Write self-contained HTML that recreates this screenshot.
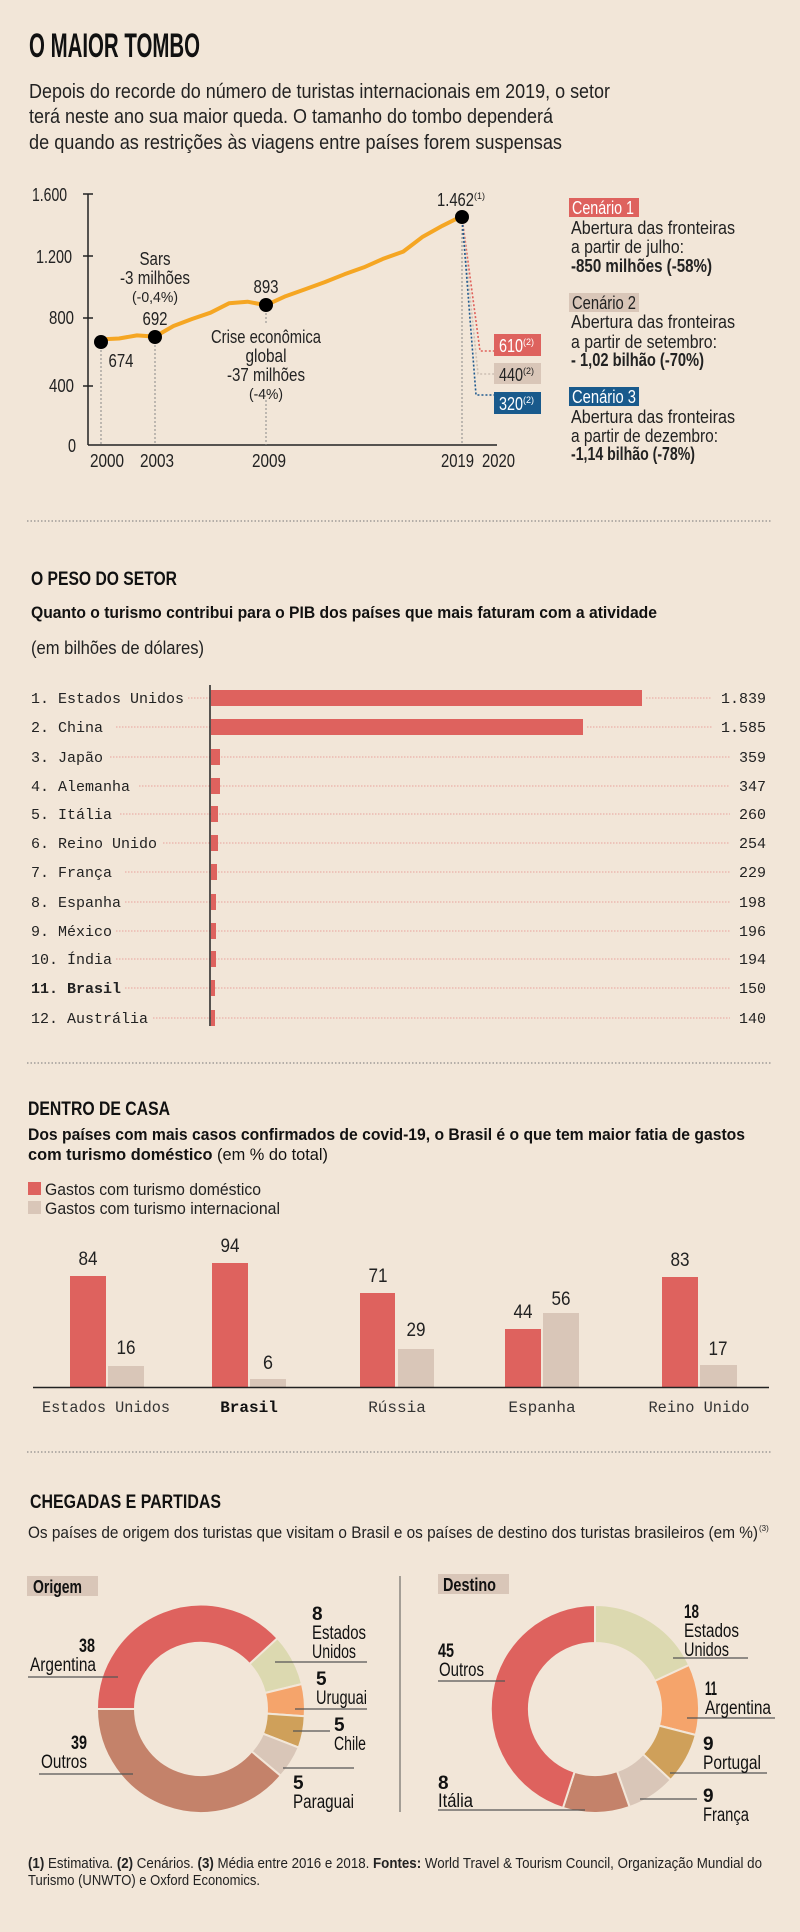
<!DOCTYPE html>
<html><head><meta charset="utf-8"><style>
html,body{margin:0;padding:0;background:#f2e6d8;}
svg{display:block;font-family:"Liberation Sans Narrow","Liberation Sans",sans-serif;}
.m{font-family:"Liberation Mono",monospace;}
</style></head><body>
<svg width="800" height="1932" viewBox="0 0 800 1932" xmlns="http://www.w3.org/2000/svg">
<rect width="800" height="1932" fill="#f2e6d8"/>
<!-- SECTION 1 -->
<text x="29" y="57" font-size="34" font-weight="bold" textLength="171" lengthAdjust="spacingAndGlyphs" fill="#111">O MAIOR TOMBO</text>
<g font-size="20" fill="#222">
<text x="29" y="98" textLength="581" lengthAdjust="spacingAndGlyphs">Depois do recorde do número de turistas internacionais em 2019, o setor</text>
<text x="29" y="123" textLength="524" lengthAdjust="spacingAndGlyphs">terá neste ano sua maior queda. O tamanho do tombo dependerá</text>
<text x="29" y="149" textLength="533" lengthAdjust="spacingAndGlyphs">de quando as restrições às viagens entre países forem suspensas</text>
</g>
<g stroke="#222" stroke-width="1.5">
<line x1="88" y1="194" x2="88" y2="445"/>
<line x1="88" y1="445" x2="497" y2="445"/>
<line x1="83" y1="194" x2="93" y2="194"/>
<line x1="83" y1="256" x2="93" y2="256"/>
<line x1="83" y1="318" x2="93" y2="318"/>
<line x1="83" y1="386" x2="93" y2="386"/>
</g>
<g font-size="18" fill="#222" text-anchor="end" lengthAdjust="spacingAndGlyphs">
<text x="67" y="201" textLength="35" lengthAdjust="spacingAndGlyphs">1.600</text>
<text x="72" y="263" textLength="36" lengthAdjust="spacingAndGlyphs">1.200</text>
<text x="74" y="324" textLength="25" lengthAdjust="spacingAndGlyphs">800</text>
<text x="74" y="392" textLength="25" lengthAdjust="spacingAndGlyphs">400</text>
<text x="76" y="452" textLength="8" lengthAdjust="spacingAndGlyphs">0</text>
</g>
<g font-size="18" fill="#222">
<text x="90" y="467" textLength="34" lengthAdjust="spacingAndGlyphs">2000</text>
<text x="140" y="467" textLength="34" lengthAdjust="spacingAndGlyphs">2003</text>
<text x="252" y="467" textLength="34" lengthAdjust="spacingAndGlyphs">2009</text>
<text x="441" y="467" textLength="33" lengthAdjust="spacingAndGlyphs">2019</text>
<text x="482" y="467" textLength="33" lengthAdjust="spacingAndGlyphs">2020</text>
</g>
<g stroke="#888" stroke-width="1" stroke-dasharray="2,2">
<line x1="101" y1="342" x2="101" y2="445"/>
<line x1="155" y1="337" x2="155" y2="445"/>
<line x1="266" y1="305" x2="266" y2="325"/>
<line x1="266" y1="400" x2="266" y2="445"/>
<line x1="462" y1="217" x2="462" y2="445"/>
</g>
<polyline fill="none" stroke="#f5a623" stroke-width="4" stroke-linejoin="round" points="101,339.4 119,338.5 137,335.4 155,336.6 173.5,326 192,319 210.5,312.7 229,303.3 247.5,301.7 266,305.2 285.6,296.2 305.2,289.2 324.8,282.1 344.4,274.3 364,267.3 383.6,258.6 403.2,251.6 422.8,236.7 442.4,225.8 462,216"/>
<polyline fill="none" stroke="#e0605a" stroke-width="1.6" stroke-dasharray="2,2" points="462,217 480,351 494,351"/>
<polyline fill="none" stroke="#cdbfb3" stroke-width="1.6" stroke-dasharray="2,2" points="462,217 478,374 494,374"/>
<polyline fill="none" stroke="#1f5a8f" stroke-width="1.6" stroke-dasharray="2,2" points="462,217 476,395 494,395"/>
<g fill="#000"><circle cx="101" cy="342" r="7"/><circle cx="155" cy="337" r="7"/><circle cx="266" cy="305" r="7"/><circle cx="462" cy="217" r="7"/></g>
<rect x="494" y="334" width="47" height="22" fill="#de625e"/>
<rect x="494" y="363" width="47" height="21" fill="#d9c6b8"/>
<rect x="494" y="392" width="47" height="22" fill="#195a8c"/>
<g font-size="18">
<text x="499" y="352" fill="#fff"><tspan textLength="24" lengthAdjust="spacingAndGlyphs">610</tspan><tspan font-size="9" dy="-7">(2)</tspan></text>
<text x="499" y="381" fill="#222"><tspan textLength="24" lengthAdjust="spacingAndGlyphs">440</tspan><tspan font-size="9" dy="-7">(2)</tspan></text>
<text x="499" y="410" fill="#fff"><tspan textLength="24" lengthAdjust="spacingAndGlyphs">320</tspan><tspan font-size="9" dy="-7">(2)</tspan></text>
</g>
<g font-size="18" fill="#222" text-anchor="middle">
<text x="155" y="265" textLength="31" lengthAdjust="spacingAndGlyphs">Sars</text>
<text x="155" y="284" textLength="70" lengthAdjust="spacingAndGlyphs">-3 milhões</text>
<text x="155" y="302" font-size="15" textLength="46" lengthAdjust="spacingAndGlyphs">(-0,4%)</text>
<text x="155" y="325" textLength="25" lengthAdjust="spacingAndGlyphs">692</text>
<text x="121" y="367" textLength="25" lengthAdjust="spacingAndGlyphs">674</text>
<text x="266" y="293" textLength="25" lengthAdjust="spacingAndGlyphs">893</text>
<text x="266" y="343" textLength="110" lengthAdjust="spacingAndGlyphs">Crise econômica</text>
<text x="266" y="362" textLength="41" lengthAdjust="spacingAndGlyphs">global</text>
<text x="266" y="381" textLength="78" lengthAdjust="spacingAndGlyphs">-37 milhões</text>
<text x="266" y="399" font-size="15" textLength="34" lengthAdjust="spacingAndGlyphs">(-4%)</text>
</g>
<text x="437" y="206" font-size="18" fill="#222"><tspan textLength="37" lengthAdjust="spacingAndGlyphs">1.462</tspan><tspan font-size="9" dy="-7">(1)</tspan></text>
<rect x="569" y="198" width="70" height="19" fill="#de625e"/>
<rect x="569" y="293" width="70" height="19" fill="#d9c6b8"/>
<rect x="569" y="387" width="70" height="19" fill="#195a8c"/>
<g font-size="18" fill="#222">
<text x="572" y="214" fill="#fff" textLength="62" lengthAdjust="spacingAndGlyphs">Cenário 1</text>
<text x="571" y="234" textLength="164" lengthAdjust="spacingAndGlyphs">Abertura das fronteiras</text>
<text x="571" y="253" textLength="113" lengthAdjust="spacingAndGlyphs">a partir de julho:</text>
<text x="571" y="272" font-weight="bold" textLength="141" lengthAdjust="spacingAndGlyphs">-850 milhões (-58%)</text>
<text x="572" y="309" textLength="64" lengthAdjust="spacingAndGlyphs">Cenário 2</text>
<text x="571" y="328" textLength="164" lengthAdjust="spacingAndGlyphs">Abertura das fronteiras</text>
<text x="571" y="348" textLength="146" lengthAdjust="spacingAndGlyphs">a partir de setembro:</text>
<text x="571" y="366" font-weight="bold" textLength="133" lengthAdjust="spacingAndGlyphs">- 1,02 bilhão (-70%)</text>
<text x="572" y="403" fill="#fff" textLength="64" lengthAdjust="spacingAndGlyphs">Cenário 3</text>
<text x="571" y="423" textLength="164" lengthAdjust="spacingAndGlyphs">Abertura das fronteiras</text>
<text x="571" y="442" textLength="147" lengthAdjust="spacingAndGlyphs">a partir de dezembro:</text>
<text x="571" y="460" font-weight="bold" textLength="124" lengthAdjust="spacingAndGlyphs">-1,14 bilhão (-78%)</text>
</g>
<line x1="27" y1="521" x2="771" y2="521" stroke="#777" stroke-width="1" stroke-dasharray="1.5,2"/>

<!-- SECTION 2 -->
<text x="31" y="585" font-size="19" font-weight="bold" textLength="146" lengthAdjust="spacingAndGlyphs" fill="#111">O PESO DO SETOR</text>
<text x="31" y="618" font-size="17" font-weight="bold" textLength="626" lengthAdjust="spacingAndGlyphs" fill="#111">Quanto o turismo contribui para o PIB dos países que mais faturam com a atividade</text>
<text x="31" y="654" font-size="18" textLength="173" lengthAdjust="spacingAndGlyphs" fill="#222">(em bilhões de dólares)</text>
<g stroke="#e8a29c" stroke-width="1" stroke-dasharray="1.5,1.5">
<line x1="188" y1="698" x2="210" y2="698"/><line x1="646" y1="698" x2="712" y2="698"/>
<line x1="116" y1="727" x2="210" y2="727"/><line x1="587" y1="727" x2="712" y2="727"/>
<line x1="110" y1="757" x2="730" y2="757"/>
<line x1="139" y1="786" x2="730" y2="786"/>
<line x1="120" y1="814" x2="730" y2="814"/>
<line x1="163" y1="843" x2="730" y2="843"/>
<line x1="125" y1="872" x2="730" y2="872"/>
<line x1="125" y1="902" x2="730" y2="902"/>
<line x1="116" y1="931" x2="730" y2="931"/>
<line x1="116" y1="959" x2="730" y2="959"/>
<line x1="125" y1="988" x2="730" y2="988"/>
<line x1="153" y1="1018" x2="730" y2="1018"/>
</g>
<g fill="#de625e">
<rect x="211" y="690" width="431" height="16"/>
<rect x="211" y="719" width="372" height="16"/>
<rect x="211" y="749" width="9" height="16"/>
<rect x="211" y="778" width="9" height="16"/>
<rect x="211" y="806" width="7" height="16"/>
<rect x="211" y="835" width="7" height="16"/>
<rect x="211" y="864" width="6" height="16"/>
<rect x="211" y="894" width="5" height="16"/>
<rect x="211" y="923" width="5" height="16"/>
<rect x="211" y="951" width="5" height="16"/>
<rect x="211" y="980" width="4" height="16"/>
<rect x="211" y="1010" width="4" height="16"/>
</g>
<line x1="210" y1="685" x2="210" y2="1026" stroke="#222" stroke-width="1.5"/>
<g class="m" font-size="15" fill="#222">
<text x="31" y="703">1. Estados Unidos</text>
<text x="31" y="732">2. China</text>
<text x="31" y="762">3. Japão</text>
<text x="31" y="791">4. Alemanha</text>
<text x="31" y="819">5. Itália</text>
<text x="31" y="848">6. Reino Unido</text>
<text x="31" y="877">7. França</text>
<text x="31" y="907">8. Espanha</text>
<text x="31" y="936">9. México</text>
<text x="31" y="964">10. Índia</text>
<text x="31" y="993" font-weight="bold">11. Brasil</text>
<text x="31" y="1023">12. Austrália</text>
</g>
<g class="m" font-size="15" fill="#222" text-anchor="end">
<text x="766" y="703">1.839</text><text x="766" y="732">1.585</text><text x="766" y="762">359</text><text x="766" y="791">347</text><text x="766" y="819">260</text><text x="766" y="848">254</text><text x="766" y="877">229</text><text x="766" y="907">198</text><text x="766" y="936">196</text><text x="766" y="964">194</text><text x="766" y="993">150</text><text x="766" y="1023">140</text>
</g>
<line x1="27" y1="1063" x2="771" y2="1063" stroke="#777" stroke-width="1" stroke-dasharray="1.5,2"/>

<!-- SECTION 3 -->
<text x="28" y="1115" font-size="19" font-weight="bold" textLength="142" lengthAdjust="spacingAndGlyphs" fill="#111">DENTRO DE CASA</text>
<text x="28" y="1140" font-size="17" font-weight="bold" textLength="717" lengthAdjust="spacingAndGlyphs" fill="#111">Dos países com mais casos confirmados de covid-19, o Brasil é o que tem maior fatia de gastos</text>
<text x="28" y="1160" font-size="17" fill="#111" textLength="300" lengthAdjust="spacingAndGlyphs"><tspan font-weight="bold">com turismo doméstico</tspan> (em % do total)</text>
<rect x="28" y="1182" width="13" height="13" fill="#de625e"/>
<rect x="28" y="1201" width="13" height="13" fill="#d9c6b8"/>
<text x="45" y="1195" font-size="17" textLength="216" lengthAdjust="spacingAndGlyphs" fill="#222">Gastos com turismo doméstico</text>
<text x="45" y="1214" font-size="17" textLength="235" lengthAdjust="spacingAndGlyphs" fill="#222">Gastos com turismo internacional</text>
<g fill="#de625e">
<rect x="70" y="1276" width="36" height="111"/>
<rect x="212" y="1263" width="36" height="124"/>
<rect x="360" y="1293" width="35" height="94"/>
<rect x="505" y="1329" width="36" height="58"/>
<rect x="662" y="1277" width="36" height="110"/>
</g>
<g fill="#d9c6b8">
<rect x="108" y="1366" width="36" height="21"/>
<rect x="250" y="1379" width="36" height="8"/>
<rect x="398" y="1349" width="36" height="38"/>
<rect x="543" y="1313" width="36" height="74"/>
<rect x="700" y="1365" width="37" height="22"/>
</g>
<line x1="33" y1="1387.5" x2="769" y2="1387.5" stroke="#222" stroke-width="1.5"/>
<g font-size="19" fill="#222" text-anchor="middle">
<text x="88" y="1265" textLength="19" lengthAdjust="spacingAndGlyphs">84</text><text x="126" y="1354" textLength="19" lengthAdjust="spacingAndGlyphs">16</text>
<text x="230" y="1252" textLength="19" lengthAdjust="spacingAndGlyphs">94</text><text x="268" y="1369" textLength="10" lengthAdjust="spacingAndGlyphs">6</text>
<text x="378" y="1282" textLength="19" lengthAdjust="spacingAndGlyphs">71</text><text x="416" y="1336" textLength="19" lengthAdjust="spacingAndGlyphs">29</text>
<text x="523" y="1318" textLength="19" lengthAdjust="spacingAndGlyphs">44</text><text x="561" y="1305" textLength="19" lengthAdjust="spacingAndGlyphs">56</text>
<text x="680" y="1266" textLength="19" lengthAdjust="spacingAndGlyphs">83</text><text x="718" y="1355" textLength="19" lengthAdjust="spacingAndGlyphs">17</text>
</g>
<g class="m" font-size="16" fill="#333" text-anchor="middle">
<text x="106" y="1412" textLength="128" lengthAdjust="spacingAndGlyphs">Estados Unidos</text>
<text x="249" y="1412" font-weight="bold" fill="#111">Brasil</text>
<text x="397" y="1412">Rússia</text>
<text x="542" y="1412">Espanha</text>
<text x="699" y="1412" textLength="101" lengthAdjust="spacingAndGlyphs">Reino Unido</text>
</g>
<line x1="27" y1="1452" x2="771" y2="1452" stroke="#777" stroke-width="1" stroke-dasharray="1.5,2"/>

<!-- SECTION 4 -->
<text x="30" y="1508" font-size="19" font-weight="bold" textLength="191" lengthAdjust="spacingAndGlyphs" fill="#111">CHEGADAS E PARTIDAS</text>
<text x="28" y="1538" font-size="17" textLength="730" lengthAdjust="spacingAndGlyphs" fill="#222">Os países de origem dos turistas que visitam o Brasil e os países de destino dos turistas brasileiros (em %)</text>
<text x="759" y="1531" font-size="8" fill="#222">(3)</text>
<rect x="27" y="1576" width="71" height="20" fill="#d9c6b8"/>
<rect x="438" y="1574" width="71" height="20" fill="#d9c6b8"/>
<text x="33" y="1593" font-size="18" font-weight="bold" fill="#111" textLength="49" lengthAdjust="spacingAndGlyphs">Origem</text>
<text x="443" y="1591" font-size="18" font-weight="bold" fill="#111" textLength="53" lengthAdjust="spacingAndGlyphs">Destino</text>
<line x1="400" y1="1576" x2="400" y2="1812" stroke="#555" stroke-width="1"/>
<g stroke="#f2e6d8" stroke-width="2">
<path d="M97,1709 A104,104 0 0,1 277.5,1638.2 L249.5,1664 A66,66 0 0,0 135,1709 Z" fill="#de625e"/>
<path d="M277.5,1638.2 A104,104 0 0,1 302,1684 L265,1693 A66,66 0 0,0 249.5,1664 Z" fill="#dcd9b0"/>
<path d="M302,1684 A104,104 0 0,1 304.7,1716.3 L266.8,1713.6 A66,66 0 0,0 265,1693 Z" fill="#f5a46b"/>
<path d="M304.7,1716.3 A104,104 0 0,1 298.7,1747.6 L263,1733.7 A66,66 0 0,0 266.8,1713.6 Z" fill="#cfa05a"/>
<path d="M298.7,1747.6 A104,104 0 0,1 280.7,1775.8 L251.6,1751.4 A66,66 0 0,0 263,1733.7 Z" fill="#d9c6b8"/>
<path d="M280.7,1775.8 A104,104 0 0,1 97,1709 L135,1709 A66,66 0 0,0 251.6,1751.4 Z" fill="#c4826a"/>
</g>
<g stroke="#f2e6d8" stroke-width="2">
<path d="M595,1605 A104,104 0 0,1 689.2,1665 L654.8,1681 A66,66 0 0,0 595,1643 Z" fill="#dcd9b0"/>
<path d="M689.2,1665 A104,104 0 0,1 695.8,1735 L659,1725.6 A66,66 0 0,0 654.8,1681 Z" fill="#f5a46b"/>
<path d="M695.8,1735 A104,104 0 0,1 670.7,1780 L643,1754.2 A66,66 0 0,0 659,1725.6 Z" fill="#cfa05a"/>
<path d="M670.7,1780 A104,104 0 0,1 629.6,1807 L617,1771.2 A66,66 0 0,0 643,1754.2 Z" fill="#d9c6b8"/>
<path d="M629.6,1807 A104,104 0 0,1 562.9,1808 L574.6,1771.8 A66,66 0 0,0 617,1771.2 Z" fill="#c4826a"/>
<path d="M562.9,1808 A104,104 0 0,1 595,1605 L595,1643 A66,66 0 0,0 574.6,1771.8 Z" fill="#de625e"/>
</g>
<g stroke="#555" stroke-width="1.2">
<line x1="28" y1="1677" x2="118" y2="1677"/>
<line x1="39" y1="1774" x2="133" y2="1774"/>
<line x1="275" y1="1662" x2="367" y2="1662"/>
<line x1="295" y1="1709" x2="367" y2="1709"/>
<line x1="293" y1="1731" x2="330" y2="1731"/>
<line x1="283" y1="1768" x2="354" y2="1768"/>
<line x1="438" y1="1681" x2="505" y2="1681"/>
<line x1="438" y1="1810" x2="585" y2="1810"/>
<line x1="673" y1="1658" x2="748" y2="1658"/>
<line x1="687" y1="1718" x2="775" y2="1718"/>
<line x1="670" y1="1773" x2="767" y2="1773"/>
<line x1="640" y1="1799" x2="697" y2="1799"/>
</g>
<g font-size="19" fill="#111">
<text x="95" y="1652" text-anchor="end" font-weight="bold" textLength="16" lengthAdjust="spacingAndGlyphs">38</text><text x="30" y="1671" textLength="66" lengthAdjust="spacingAndGlyphs">Argentina</text>
<text x="87" y="1749" text-anchor="end" font-weight="bold" textLength="16" lengthAdjust="spacingAndGlyphs">39</text><text x="41" y="1768" textLength="46" lengthAdjust="spacingAndGlyphs">Outros</text>
<text x="312" y="1620" font-weight="bold">8</text><text x="312" y="1639" textLength="54" lengthAdjust="spacingAndGlyphs">Estados</text><text x="312" y="1658" textLength="44" lengthAdjust="spacingAndGlyphs">Unidos</text>
<text x="316" y="1685" font-weight="bold">5</text><text x="316" y="1704" textLength="51" lengthAdjust="spacingAndGlyphs">Uruguai</text>
<text x="334" y="1731" font-weight="bold">5</text><text x="334" y="1750" textLength="32" lengthAdjust="spacingAndGlyphs">Chile</text>
<text x="293" y="1789" font-weight="bold">5</text><text x="293" y="1808" textLength="61" lengthAdjust="spacingAndGlyphs">Paraguai</text>
<text x="438" y="1657" font-weight="bold" textLength="16" lengthAdjust="spacingAndGlyphs">45</text><text x="439" y="1676" textLength="45" lengthAdjust="spacingAndGlyphs">Outros</text>
<text x="438" y="1789" font-weight="bold">8</text><text x="438" y="1807" textLength="35" lengthAdjust="spacingAndGlyphs">Itália</text>
<text x="684" y="1618" font-weight="bold" textLength="15" lengthAdjust="spacingAndGlyphs">18</text><text x="684" y="1637" textLength="55" lengthAdjust="spacingAndGlyphs">Estados</text><text x="684" y="1656" textLength="45" lengthAdjust="spacingAndGlyphs">Unidos</text>
<text x="705" y="1695" font-weight="bold" textLength="12" lengthAdjust="spacingAndGlyphs">11</text><text x="705" y="1714" textLength="66" lengthAdjust="spacingAndGlyphs">Argentina</text>
<text x="703" y="1750" font-weight="bold">9</text><text x="703" y="1769" textLength="58" lengthAdjust="spacingAndGlyphs">Portugal</text>
<text x="703" y="1802" font-weight="bold">9</text><text x="703" y="1821" textLength="46" lengthAdjust="spacingAndGlyphs">França</text>
</g>
<text x="28" y="1868" font-size="15" fill="#222" textLength="734" lengthAdjust="spacingAndGlyphs"><tspan font-weight="bold">(1)</tspan> Estimativa. <tspan font-weight="bold">(2)</tspan> Cenários. <tspan font-weight="bold">(3)</tspan> Média entre 2016 e 2018. <tspan font-weight="bold">Fontes:</tspan> World Travel &amp; Tourism Council, Organização Mundial do</text>
<text x="28" y="1885" font-size="15" fill="#222" textLength="232" lengthAdjust="spacingAndGlyphs">Turismo (UNWTO) e Oxford Economics.</text>
</svg>
</body></html>
